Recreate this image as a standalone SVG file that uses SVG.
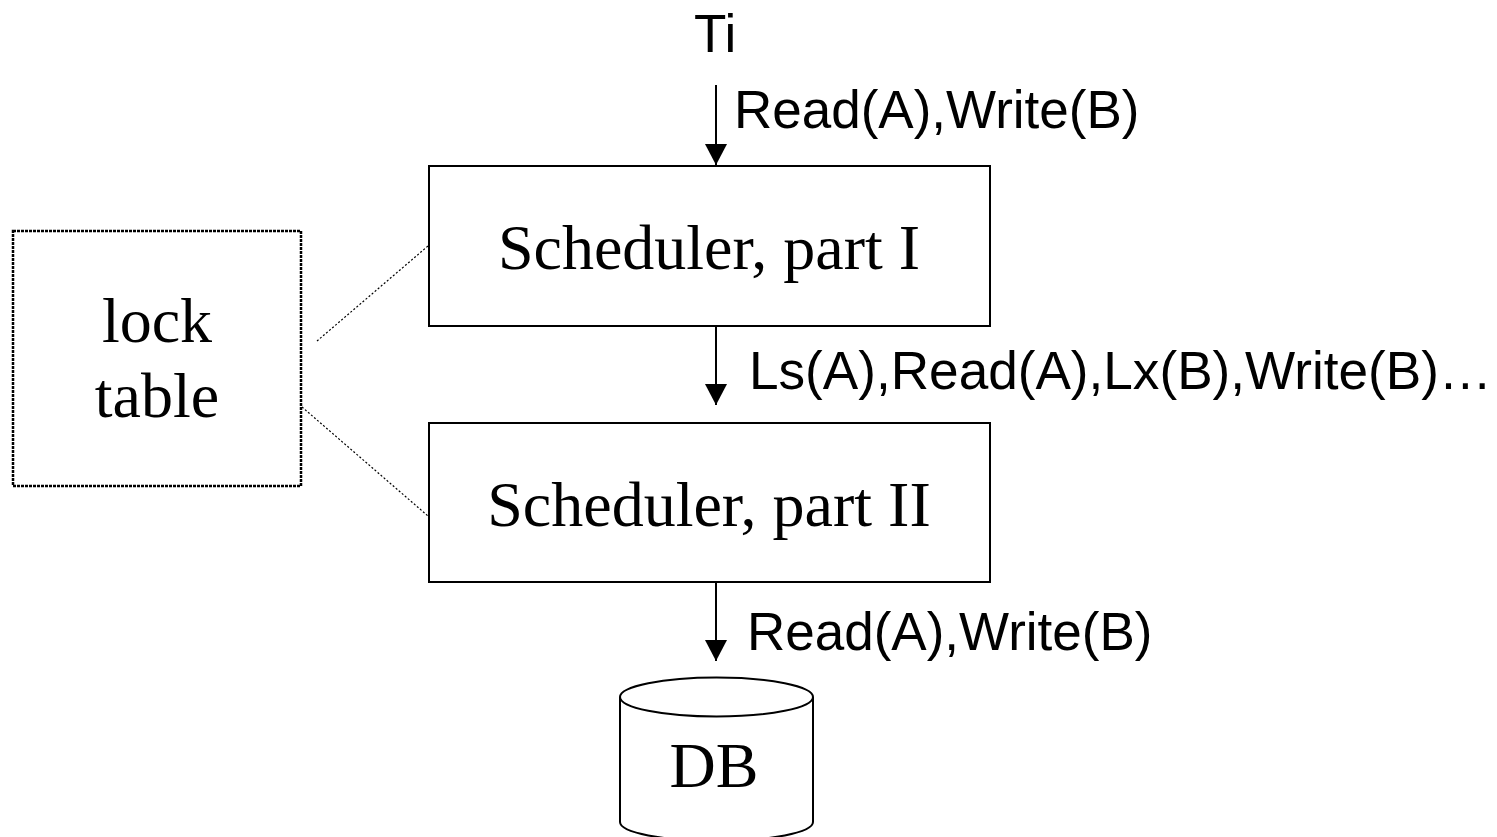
<svg xmlns="http://www.w3.org/2000/svg" width="1497" height="837" viewBox="0 0 1497 837">
<defs>
<style>
.box{fill:#fff;stroke:#000;stroke-width:2}
.serif{font-family:"Liberation Serif","Times New Roman",serif;font-size:64px;fill:#000}
.sans{font-family:"Liberation Sans",Arial,sans-serif;font-size:53px;fill:#000}
.edge{stroke:#000;stroke-width:2;fill:none}
.dot{stroke:#000;stroke-width:1.2;stroke-dasharray:2 2;fill:none}
</style>
<marker id="arr" markerWidth="22" markerHeight="22" refX="21" refY="11" orient="auto" markerUnits="userSpaceOnUse">
<path d="M0,0 L21,11 L0,22 Z" fill="#000"/>
</marker>
</defs>
<rect width="1497" height="837" fill="#fff"/>
<g id="connectors">
<line class="edge" x1="716" y1="85" x2="716" y2="165" marker-end="url(#arr)"/>
<line class="edge" x1="716" y1="327" x2="716" y2="405" marker-end="url(#arr)"/>
<line class="edge" x1="716" y1="583" x2="716" y2="661" marker-end="url(#arr)"/>
<line class="dot" x1="317" y1="341" x2="428" y2="246"/>
<line class="dot" x1="302" y1="407" x2="428" y2="516"/>
<text class="sans" x="734" y="128">Read(A),Write(B)</text>
<text class="sans" x="749" y="389" font-size="54" textLength="743" lengthAdjust="spacingAndGlyphs">Ls(A),Read(A),Lx(B),Write(B)…</text>
<text class="sans" x="747" y="650">Read(A),Write(B)</text>
</g>
<g id="ti">
<text class="sans" x="694" y="52">Ti</text>
</g>
<g id="scheduler1">
<rect class="box" x="429" y="166" width="561" height="160"/>
<text class="serif" x="709" y="269" text-anchor="middle" font-size="64.5">Scheduler, part I</text>
</g>
<g id="scheduler2">
<rect class="box" x="429" y="423" width="561" height="159"/>
<text class="serif" x="709" y="526" text-anchor="middle" font-size="64.5">Scheduler, part II</text>
</g>
<g id="locktable">
<rect x="13" y="231" width="288" height="255" fill="#fff" stroke="#000" stroke-width="2.5" stroke-dasharray="3 1"/>
<text class="serif" x="157" y="342" text-anchor="middle">lock</text>
<text class="serif" x="157" y="417" text-anchor="middle">table</text>
</g>
<g id="db">
<path d="M620,697 L620,822 A96.5,19 0 0 0 813,822 L813,697" fill="#fff" stroke="#000" stroke-width="2"/>
<ellipse cx="716.5" cy="697" rx="96.5" ry="19.5" fill="#fff" stroke="#000" stroke-width="2"/>
<text class="serif" x="714" y="787" text-anchor="middle">DB</text>
</g>
</svg>
